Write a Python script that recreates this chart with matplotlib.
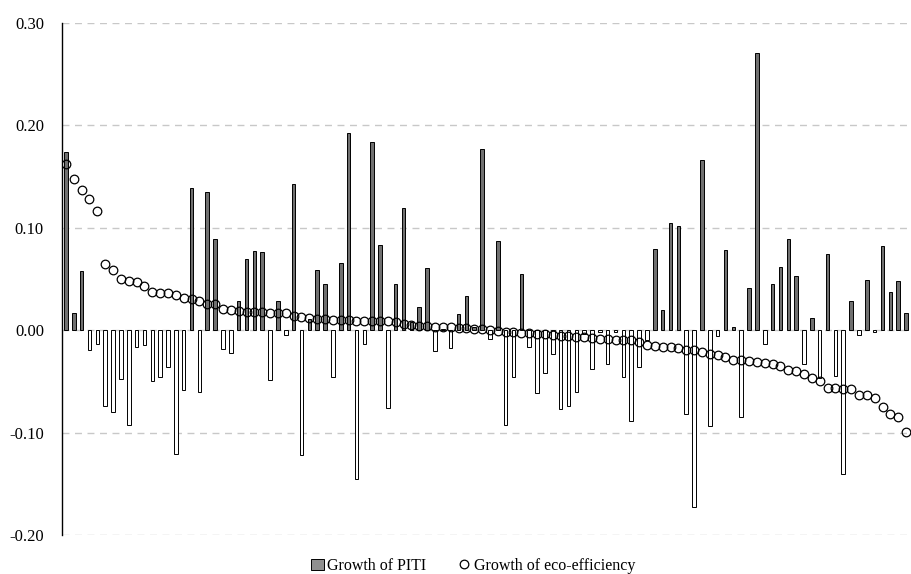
import matplotlib
matplotlib.use("Agg")
import matplotlib.pyplot as plt
from matplotlib.patches import Patch
from matplotlib.lines import Line2D
import numpy as np

plt.rcParams['font.family'] = ['Liberation Serif', 'DejaVu Serif']

piti = [
    0.174, 0.017, 0.058, -0.019, -0.013, -0.074, -0.080, -0.048, -0.093, -0.016,
    -0.014, -0.050, -0.046, -0.036, -0.121, -0.058, 0.139, -0.060, 0.135, 0.089,
    -0.018, -0.022, 0.029, 0.070, 0.077, 0.0765, -0.049, 0.029, -0.005, 0.143,
    -0.122, 0.011, 0.059, 0.045, -0.046, 0.066, 0.193, -0.145, -0.013, 0.184,
    0.083, -0.076, 0.045, 0.119, 0.008, 0.023, 0.061, -0.020, 0.001, -0.017,
    0.016, 0.033, 0.003, 0.177, -0.009, 0.087, -0.093, -0.046, 0.055, -0.016,
    -0.061, -0.042, -0.023, -0.077, -0.074, -0.060, -0.004, -0.038, -0.002, -0.033,
    -0.002, -0.046, -0.089, -0.036, -0.010, 0.079, 0.020, 0.105, 0.102, -0.082,
    -0.173, 0.166, -0.094, -0.006, 0.078, 0.003, -0.085, 0.041, 0.271, -0.013,
    0.045, 0.0615, 0.089, 0.053, -0.033, 0.012, -0.047, 0.074, -0.045, -0.140,
    0.029, -0.005, 0.0495, -0.002, 0.082, 0.037, 0.0485, 0.017,
]

eco = [
    0.162, 0.148, 0.137, 0.128, 0.116, 0.0645, 0.059, 0.050, 0.0485, 0.047,
    0.043, 0.037, 0.036, 0.036, 0.034, 0.031, 0.030, 0.029, 0.026, 0.0255,
    0.021, 0.020, 0.019, 0.018, 0.018, 0.0175, 0.017, 0.017, 0.0165, 0.014,
    0.013, 0.012, 0.011, 0.011, 0.010, 0.010, 0.010, 0.009, 0.009, 0.009,
    0.009, 0.0088, 0.0078, 0.0065, 0.005, 0.004, 0.004, 0.0033, 0.003, 0.003,
    0.002, 0.002, 0.0013, 0.0007, 0.000, -0.0007, -0.0016, -0.002, -0.003, -0.003,
    -0.004, -0.004, -0.0045, -0.0055, -0.0058, -0.0065, -0.007, -0.008, -0.0085, -0.009,
    -0.0098, -0.0098, -0.0098, -0.012, -0.014, -0.0156, -0.0166, -0.0166, -0.0176, -0.0195,
    -0.0195, -0.0215, -0.023, -0.024, -0.026, -0.029, -0.029, -0.030, -0.031, -0.032,
    -0.033, -0.0345, -0.039, -0.040, -0.043, -0.0466, -0.050, -0.056, -0.0567, -0.057,
    -0.0577, -0.063, -0.0635, -0.066, -0.075, -0.082, -0.085, -0.099,
]

yticks = [-0.20, -0.10, 0.00, 0.10, 0.20, 0.30]
series_names = ["Growth of PITI", "Growth of eco-efficiency"]

fig = plt.figure(figsize=(9.11, 5.74), dpi=100)
ax = fig.add_axes([62/911, 1 - 535/574, (910 - 62)/911, (535 - 23)/574])

x = np.arange(len(piti))
vals = np.array(piti)
colors = np.where(vals >= 0, '#707070', '#ffffff')
ax.bar(x, vals, width=0.45, color=colors, edgecolor='black', linewidth=0.7, zorder=2)
ax.plot(x, eco, linestyle='none', marker='o', markersize=6.2,
        markerfacecolor='none', markeredgecolor='black', markeredgewidth=0.9, zorder=3)

ax.set_xlim(-0.5, len(piti) - 0.5)
ax.set_ylim(-0.20, 0.30)
ax.set_yticks(yticks)
ax.set_yticklabels([f"{t:.2f}" for t in yticks], fontsize=12)
ax.set_xticks([])
ax.tick_params(axis='y', length=0, pad=13)
ax.grid(axis='y', color='#c8c8c8', linestyle=(0, (5, 4)), linewidth=1.0, zorder=0)
ax.set_axisbelow(True)
for s in ['top', 'right', 'bottom']:
    ax.spines[s].set_visible(False)
ax.spines['left'].set_color('black')
ax.spines['left'].set_linewidth(1.0)

handles = [
    Patch(facecolor='#909090', edgecolor='black', linewidth=0.7, label=series_names[0]),
    Line2D([], [], linestyle='none', marker='o', markersize=6.2, markerfacecolor='white',
           markeredgecolor='black', markeredgewidth=0.9, label=series_names[1]),
]
fig.legend(handles=handles, loc='center', bbox_to_anchor=(473/911, 1 - 566/574), ncol=2,
           frameon=False, fontsize=11.5, handlelength=0.8, handletextpad=0.2,
           columnspacing=2.0, borderaxespad=0)

fig.savefig('out.png', dpi=100)
